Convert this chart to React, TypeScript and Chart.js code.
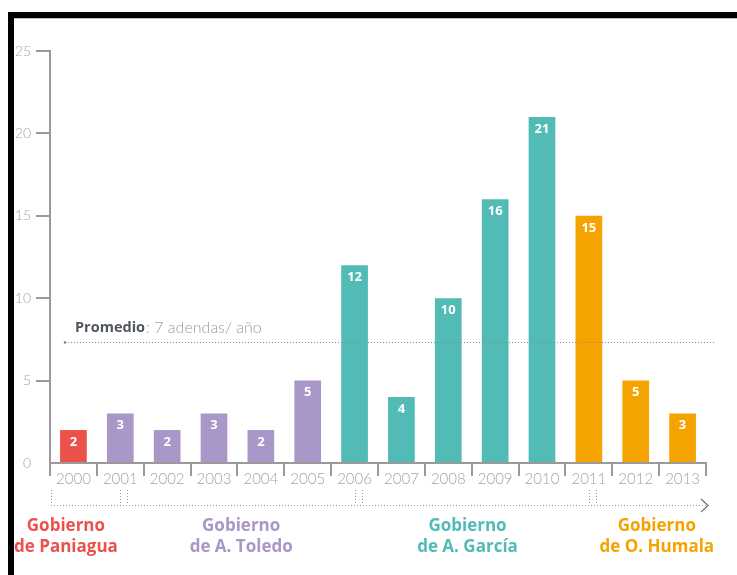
import React, { useEffect, useRef } from "react";
import { Chart, registerables } from "chart.js";

Chart.register(...registerables);

// ---- data ----
const years = ["2000", "2001", "2002", "2003", "2004", "2005", "2006", "2007", "2008", "2009", "2010", "2011", "2012", "2013"];
const adendas = [2, 3, 2, 3, 2, 5, 12, 4, 10, 16, 21, 15, 5, 3];
const barGovernment = [0, 1, 1, 1, 1, 1, 2, 2, 2, 2, 2, 3, 3, 3];
const govColors = ["#EC524C", "#A997C8", "#52BBB6", "#F5A300"];
const govLine1 = ["Gobierno", "Gobierno", "Gobierno", "Gobierno"];
const govLine2 = ["de Paniagua", "de A. Toledo", "de A. García", "de O. Humala"];
const transitionYears = ["2001", "2006", "2011"];
const yTickValues = [0, 5, 10, 15, 20, 25];
const averageTitle = "Promedio";
const averageText = ": 7 adendas/ año";

const W = 737;
const H = 575;

const decorPlugin = {
  id: "decor",
  beforeDraw(chart: any) {
    const ctx = chart.ctx;
    ctx.save();
    ctx.fillStyle = "#ffffff";
    ctx.fillRect(0, 0, chart.width, chart.height);
    ctx.restore();
  },
  afterDatasetsDraw(chart: any) {
    const ctx = chart.ctx;
    const meta = chart.getDatasetMeta(0);
    ctx.save();
    ctx.fillStyle = "#ffffff";
    ctx.font = "bold 13px 'Open Sans', sans-serif";
    ctx.textAlign = "center";
    ctx.textBaseline = "middle";
    meta.data.forEach((bar: any, i: number) => {
      ctx.fillText(String(adendas[i]), bar.x, bar.y + 12);
    });
    ctx.restore();
  },
  afterDraw(chart: any) {
    const ctx = chart.ctx;
    const xs = chart.scales.x;
    const ys = chart.scales.y;
    const area = chart.chartArea;
    ctx.save();

    // average line
    const avg = adendas.reduce((a, b) => a + b, 0) / adendas.length;
    const ay = Math.round(ys.getPixelForValue(avg)) + 0.5;
    ctx.strokeStyle = "#8a8a8a";
    ctx.lineWidth = 1;
    ctx.setLineDash([1, 2]);
    ctx.beginPath();
    ctx.moveTo(area.left + 15, ay);
    ctx.lineTo(area.right + 8, ay);
    ctx.stroke();
    ctx.setLineDash([]);
    ctx.fillStyle = "#777";
    ctx.beginPath();
    ctx.arc(area.left + 15, ay, 1.2, 0, Math.PI * 2);
    ctx.fill();

    ctx.textBaseline = "middle";
    ctx.textAlign = "left";
    ctx.font = "bold 14.5px 'Open Sans', sans-serif";
    ctx.fillStyle = "#4f5660";
    const tx = area.left + 25;
    const tyy = ay - 15;
    ctx.fillText(averageTitle, tx, tyy);
    const w1 = ctx.measureText(averageTitle).width;
    ctx.font = "300 16px Lato, sans-serif";
    ctx.fillStyle = "#9a9aa4";
    ctx.fillText(averageText, tx + w1 + 1, tyy);

    // government brackets
    const by = area.bottom + 42;
    const vTop = area.bottom + 27;
    ctx.strokeStyle = "#999";
    ctx.lineWidth = 1;
    ctx.setLineDash([1, 2]);
    ctx.beginPath();
    ctx.moveTo(area.left + 1, by + 0.5);
    ctx.lineTo(area.right + 1, by + 0.5);
    ctx.stroke();
    const vline = (x: number) => {
      ctx.beginPath();
      ctx.moveTo(Math.round(x) + 0.5, vTop);
      ctx.lineTo(Math.round(x) + 0.5, by);
      ctx.stroke();
    };
    vline(area.left + 1);
    transitionYears.forEach((yr) => {
      const cx = xs.getPixelForValue(years.indexOf(yr));
      vline(cx);
      vline(cx + 7);
    });
    ctx.setLineDash([]);
    // arrow head
    ctx.strokeStyle = "#777";
    ctx.lineWidth = 1.3;
    ctx.beginPath();
    ctx.moveTo(area.right - 5, by - 6);
    ctx.lineTo(area.right + 2, by + 0.5);
    ctx.lineTo(area.right - 5, by + 7);
    ctx.stroke();

    // government labels
    const labelIdx = [-0.16, 3.58, 8.41, 12.45];
    ctx.textAlign = "center";
    ctx.textBaseline = "middle";
    ctx.font = "bold 17px 'Open Sans', sans-serif";
    govLine1.forEach((l1, g) => {
      const cx = xs.getPixelForValue(labelIdx[g]);
      ctx.fillStyle = govColors[g];
      ctx.fillText(l1, cx, area.bottom + 63);
      ctx.fillText(govLine2[g], cx, area.bottom + 84);
    });

    // black frame
    ctx.fillStyle = "#000";
    ctx.fillRect(8, 12, W - 8, 6);
    ctx.fillRect(8, 12, 6, H - 12);
    ctx.fillStyle = "#bbb";
    ctx.fillRect(14, 18, W - 14, 1);
    ctx.restore();
  },
};

export default function App() {
  const ref = useRef<HTMLCanvasElement | null>(null);

  useEffect(() => {
    if (!ref.current) return;
    const chart = new Chart(ref.current, {
      type: "bar",
      data: {
        labels: years,
        datasets: [
          {
            data: adendas,
            backgroundColor: barGovernment.map((g) => govColors[g]),
            categoryPercentage: 1,
            barPercentage: 0.57,
            borderWidth: 0,
          },
        ],
      },
      options: {
        responsive: false,
        animation: false,
        events: [],
        layout: { padding: { left: 0, right: 31, top: 51, bottom: 0 } },
        plugins: { legend: { display: false }, tooltip: { enabled: false } },
        scales: {
          x: {
            type: "category",
            offset: true,
            afterFit: (s: any) => {
              s.height = 112;
            },
            grid: {
              offset: true,
              drawOnChartArea: false,
              drawTicks: true,
              tickLength: 13,
              color: "#9a9a9a",
              lineWidth: 2,
            },
            border: { display: true, color: "#9a9a9a", width: 2 },
            ticks: {
              autoSkip: false,
              maxRotation: 0,
              padding: -6,
              color: "#a0a2b0",
              font: { family: "Lato, sans-serif", size: 15, weight: "300" },
            },
          },
          y: {
            min: 0,
            max: 25,
            afterFit: (s: any) => {
              s.width = 50;
            },
            afterBuildTicks: (s: any) => {
              s.ticks = yTickValues.map((v) => ({ value: v }));
            },
            grid: {
              drawOnChartArea: false,
              drawTicks: true,
              tickLength: 14,
              lineWidth: 2,
              color: (c: any) => (c.tick && c.tick.value === 0 ? "rgba(0,0,0,0)" : "#9a9a9a"),
            },
            border: { display: true, color: "#9a9a9a", width: 2 },
            ticks: {
              padding: 5,
              color: "#a0a2b0",
              font: { family: "Lato, sans-serif", size: 14, weight: "300" },
            },
          },
        },
      },
      plugins: [decorPlugin],
    } as any);
    return () => chart.destroy();
  }, []);

  return (
    <div style={{ position: "absolute", left: 0, top: 0, width: W, height: H }}>
      <canvas ref={ref} width={W} height={H} style={{ display: "block" }} />
    </div>
  );
}
